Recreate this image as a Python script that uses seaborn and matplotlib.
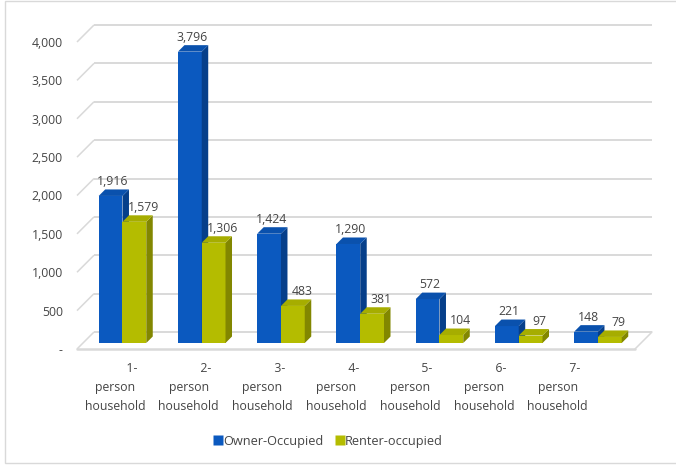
import matplotlib
matplotlib.use("Agg")
import matplotlib.pyplot as plt
import numpy as np
import pandas as pd
import seaborn as sns
from matplotlib.patches import Polygon, Rectangle
from matplotlib.lines import Line2D

# ---- data -------------------------------------------------------------
categories = [
    "1-\nperson\nhousehold",
    "2-\nperson\nhousehold",
    "3-\nperson\nhousehold",
    "4-\nperson\nhousehold",
    "5-\nperson\nhousehold",
    "6-\nperson\nhousehold",
    "7-\nperson\nhousehold",
]
series_names = ["Owner-Occupied", "Renter-occupied"]
owner_occupied = [1916, 3796, 1424, 1290, 572, 221, 148]
renter_occupied = [1579, 1306, 483, 381, 104, 97, 79]
y_ticks = [0, 500, 1000, 1500, 2000, 2500, 3000, 3500, 4000]
y_tick_labels = ["-", "500", "1,000", "1,500", "2,000", "2,500", "3,000", "3,500", "4,000"]

# ---- style ------------------------------------------------------------
sns.set_theme(style="white")
plt.rcParams["font.family"] = ["Open Sans", "DejaVu Sans"]
TEXT = "#454545"
GRID = "#d9d9d9"
FACE = {
    series_names[0]: ("#0b59bf", "#0a51ad", "#063f8a"),   # front, top, side
    series_names[1]: ("#b4bc00", "#a6ad00", "#828700"),
}
FS = 8.8
DEPTH = 6.5          # oblique depth of each bar, in pixels

W, H = 676, 466
fig = plt.figure(figsize=(W / 100, H / 100), dpi=100)
fig.patch.set_facecolor("white")

# pixel-space layer for walls, floor and frame
bg = fig.add_axes([0, 0, 1, 1], zorder=0)
bg.set_xlim(0, W)
bg.set_ylim(H, 0)
bg.axis("off")

ax = fig.add_axes([80 / W, (H - 343) / H, 553 / W, 307 / H], zorder=1)
ax.patch.set_alpha(0)

df = pd.DataFrame({
    "category": categories * 2,
    "tenure": [series_names[0]] * len(categories) + [series_names[1]] * len(categories),
    "households": owner_occupied + renter_occupied,
})
sns.barplot(
    data=df, x="category", y="households", hue="tenure",
    hue_order=series_names, order=categories,
    palette=[FACE[s][0] for s in series_names], saturation=1,
    width=0.6, linewidth=0, edgecolor="none", legend=False, ax=ax,
)

ax.set_ylim(0, 4000)
ax.set_xlim(-0.536, -0.536 + 553 / 79.25)
for sp in ax.spines.values():
    sp.set_visible(False)
ax.set_xlabel("")
ax.set_ylabel("")
ax.grid(False)

# y ticks on the front edge of the floor
ax.set_yticks(y_ticks, y_tick_labels)
ax.tick_params(axis="y", length=0, pad=12.3, labelsize=FS, labelcolor=TEXT)
shift_down = matplotlib.transforms.ScaledTranslation(0, -6 / 100, fig.dpi_scale_trans)
for lbl in ax.get_yticklabels():
    lbl.set_transform(lbl.get_transform() + shift_down)

# category labels follow the front edge of the floor (perspective);
# the wrapped number line sits toward the right of each label block
label_pos = [-0.095 + 0.931 * i for i in range(len(categories))]
wrapped = [" " * 11 + c for c in categories]
ax.set_xticks(label_pos, wrapped)
ax.tick_params(axis="x", length=0, pad=13.5, labelsize=FS, labelcolor=TEXT)
for lbl in ax.get_xticklabels():
    lbl.set_linespacing(1.6)
    lbl.set_horizontalalignment("center")

fig.canvas.draw()


def to_px(x, y):
    d = ax.transData.transform((x, y))
    return bg.transData.inverted().transform(d)


# walls and floor
x_left_data, x_right_data = ax.get_xlim()
for v in y_ticks:
    lx, fy = to_px(x_left_data, v)
    fy += 6
    lx -= 3
    by = fy - 17
    bg.plot([lx, lx + 17], [fy, by], color=GRID, lw=1.1, solid_capstyle="butt")
    bg.plot([lx + 17, 652], [by, by], color=GRID, lw=1.4, solid_capstyle="butt")
lx, fy = to_px(x_left_data, 0)
bg.plot([lx - 3, 635], [fy + 6, fy + 6], color=GRID, lw=1.8)
bg.plot([635, 652], [fy + 6, fy - 11], color=GRID, lw=1.1)

# frame around the chart area
bg.add_patch(Rectangle((5, 1), W - 4, 462, fill=False, edgecolor="#d9d9d9", lw=1.0))

# 3-D faces for each bar
label_shift = {series_names[0]: 2.5, series_names[1]: 9.0}
values = {series_names[0]: owner_occupied, series_names[1]: renter_occupied}
for k, s in enumerate(series_names):
    front, top, side = FACE[s]
    own = [p for p in ax.patches
           if np.allclose(p.get_facecolor()[:3], matplotlib.colors.to_rgb(front))]
    own.sort(key=lambda p: p.get_x())
    for i, p in enumerate(own):
        z = 2 + 2 * k
        p.set_zorder(z)
        x0, x1 = p.get_x(), p.get_x() + p.get_width()
        h = p.get_height()
        (ax0, ay0), (ax1, ay1) = to_px(x0, 0), to_px(x1, h)
        side_poly = Polygon(
            [(ax1, ay0), (ax1 + DEPTH, ay0 - DEPTH), (ax1 + DEPTH, ay1 - DEPTH), (ax1, ay1)],
            closed=True, facecolor=side, edgecolor="none",
            transform=bg.transData, zorder=z + 0.5, clip_on=False)
        top_poly = Polygon(
            [(ax0, ay1), (ax1, ay1), (ax1 + DEPTH, ay1 - DEPTH), (ax0 + DEPTH, ay1 - DEPTH)],
            closed=True, facecolor=top, edgecolor="none",
            transform=bg.transData, zorder=z + 0.5, clip_on=False)
        ax.add_patch(side_poly)
        ax.add_patch(top_poly)
        ax.text((ax0 + ax1) / 2 + label_shift[s], ay1 - DEPTH - 4.5,
                f"{values[s][i]:,}", ha="center", va="baseline",
                fontsize=FS, color=TEXT, transform=bg.transData, zorder=10,
                clip_on=False)

# legend
handles = [Line2D([], [], marker="s", linestyle="none", markersize=6.5,
                  markerfacecolor=FACE[s][0], markeredgecolor="none") for s in series_names]
fig.legend(handles, series_names, loc="center", bbox_to_anchor=(329 / W, 1 - 441 / H),
           ncol=2, frameon=False, fontsize=9.2, labelcolor=TEXT,
           handlelength=0.5, handletextpad=0.1, columnspacing=1.1)

fig.savefig("out.png", dpi=100, facecolor="white")
